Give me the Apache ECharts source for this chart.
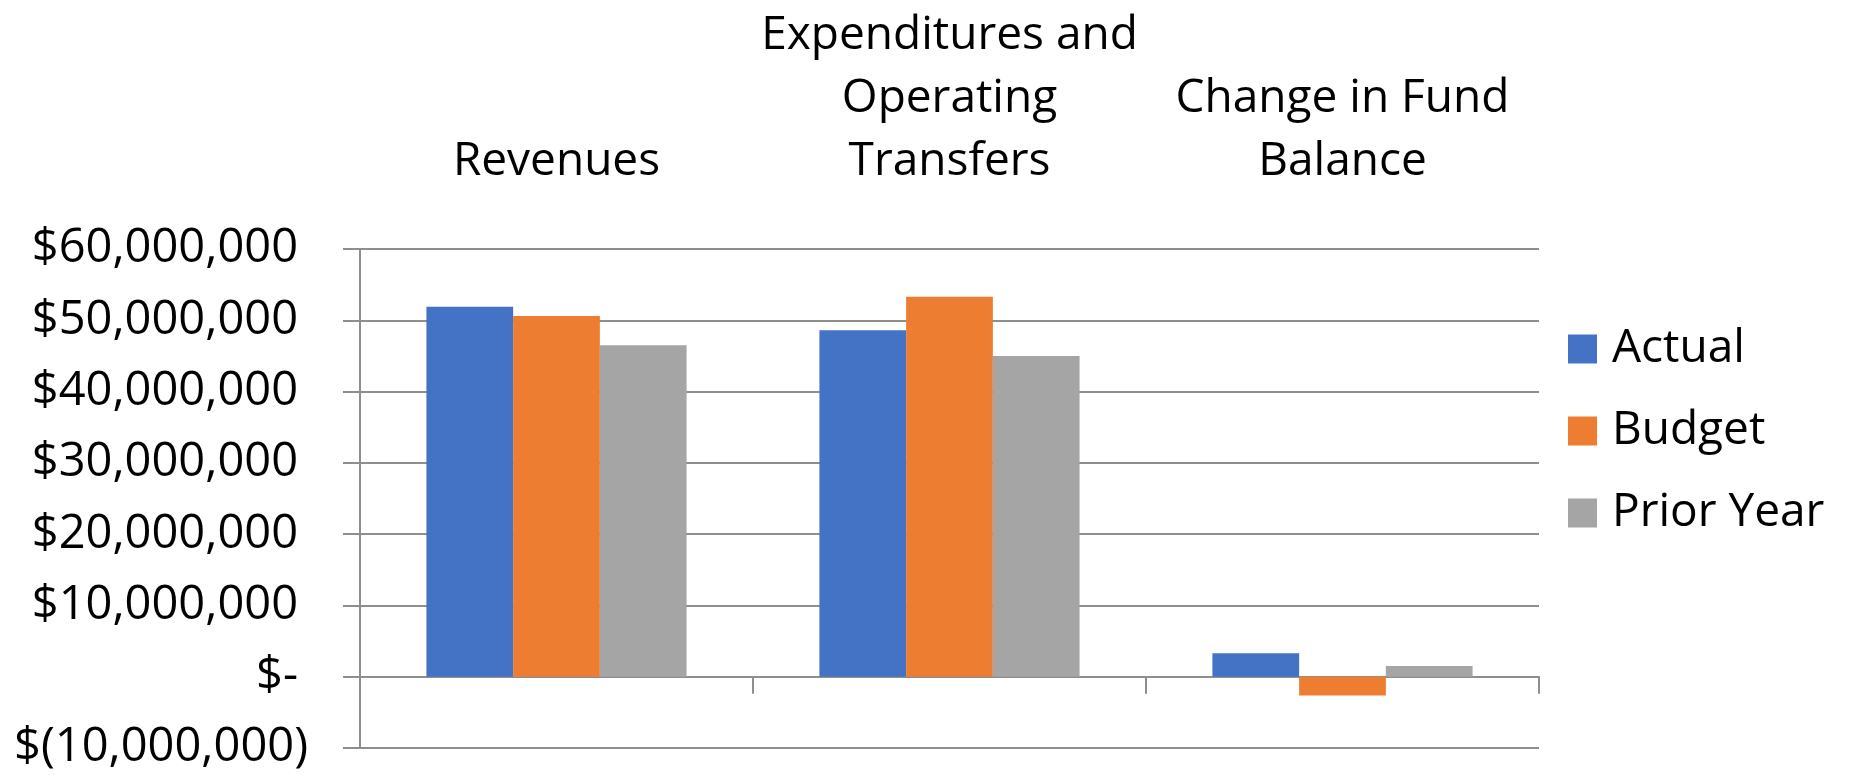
<!DOCTYPE html>
<html>
<head>
<meta charset="utf-8">
<script src="https://cdn.jsdelivr.net/npm/echarts@6/dist/echarts.min.js"></script>
<style>
html,body{margin:0;padding:0;background:#fff;}
#chart{width:1851px;height:775px;}
</style>
</head>
<body>
<div id="chart"></div>
<script>
const categories = ['Revenues', 'Expenditures and\nOperating\nTransfers', 'Change in Fund\nBalance'];
const seriesNames = ['Actual', 'Budget', 'Prior Year'];
const actual = [51900000, 48600000, 3280000];
const budget = [50600000, 53300000, -2620000];
const priorYear = [46500000, 45000000, 1500000];
const yTicks = { min: -10000000, max: 60000000, interval: 10000000 };
const colors = ['#4472C4', '#ED7D31', '#A5A5A5'];

const gridColor = '#8e8e8e';
const font = '"Open Sans", "Noto Sans", sans-serif';

function fmt(v) {
  const s = Math.abs(v).toLocaleString('en-US');
  if (v === 0) return '{p|$-}';
  if (v < 0) return '$(' + s + ')';
  return '{p|$' + s + '}';
}

const chart = echarts.init(document.getElementById('chart'));
chart.setOption({
  animation: false,
  color: colors,
  grid: { left: 360, right: 312, top: 249, bottom: 27, containLabel: false },
  legend: {
    orient: 'vertical',
    left: 1568,
    top: 326,
    padding: 0,
    itemWidth: 29,
    itemHeight: 29,
    itemGap: 36,
    icon: 'rect',
    data: seriesNames,
    textStyle: { fontFamily: font, fontSize: 46, color: '#000', padding: [0, 0, 0, 10] }
  },
  xAxis: [
    {
      type: 'category',
      data: categories,
      position: 'top',
      axisLine: { show: false, onZero: false },
      axisTick: { show: false },
      axisLabel: {
        fontFamily: font, fontSize: 46, color: '#000', lineHeight: 63,
        margin: 56, interval: 0, verticalAlign: 'bottom'
      }
    },
    {
      type: 'category',
      data: categories,
      position: 'bottom',
      axisLine: { onZero: true, lineStyle: { color: gridColor, width: 2 } },
      axisTick: { show: true, length: 17, interval: 0, lineStyle: { color: gridColor, width: 2 } },
      axisLabel: { show: false }
    }
  ],
  yAxis: {
    type: 'value',
    min: yTicks.min,
    max: yTicks.max,
    interval: yTicks.interval,
    axisLine: { show: true, lineStyle: { color: gridColor, width: 2 } },
    axisTick: { show: true, length: 17, lineStyle: { color: gridColor, width: 2 } },
    splitLine: { show: true, lineStyle: { color: gridColor, width: 2 } },
    axisLabel: {
      fontFamily: font, fontSize: 47, color: '#000', margin: 52,
      formatter: fmt,
      rich: { p: { fontFamily: font, fontSize: 47, color: '#000', padding: [0, 10, 0, 0] } }
    }
  },
  series: [
    { name: seriesNames[0], type: 'bar', data: actual, barGap: '0%', barCategoryGap: '33.8%', xAxisIndex: 0 },
    { name: seriesNames[1], type: 'bar', data: budget, barGap: '0%', barCategoryGap: '33.8%', xAxisIndex: 0 },
    { name: seriesNames[2], type: 'bar', data: priorYear, barGap: '0%', barCategoryGap: '33.8%', xAxisIndex: 0 }
  ]
});
</script>
</body>
</html>
